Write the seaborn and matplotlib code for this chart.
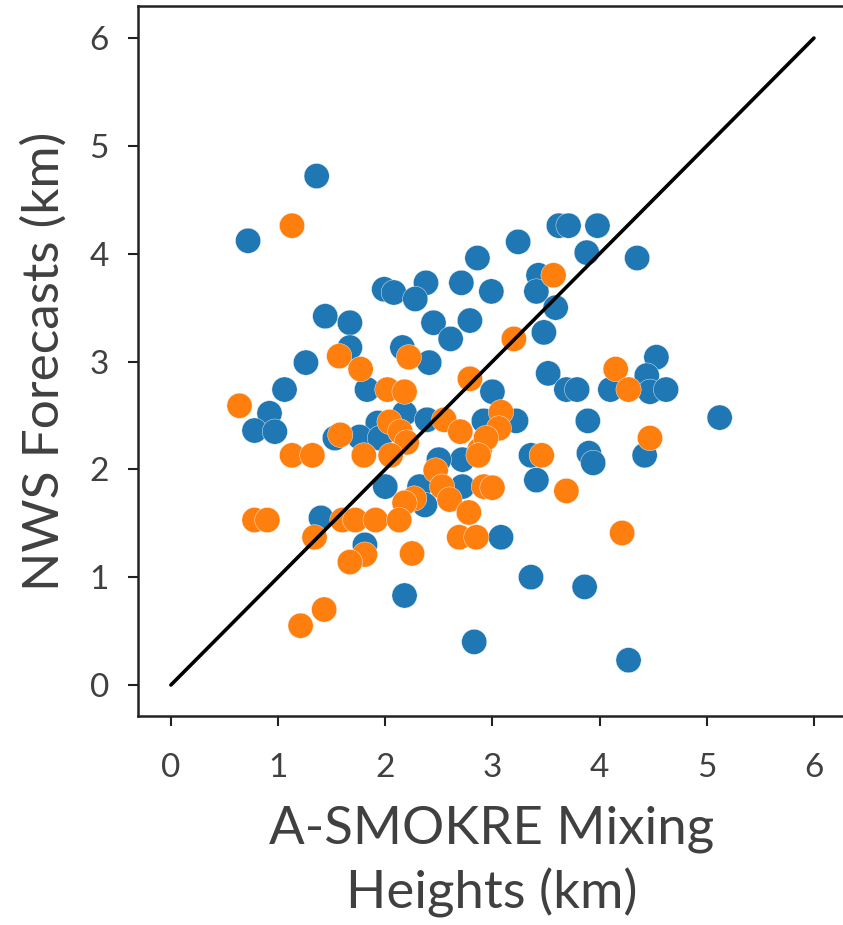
import pandas as pd
import seaborn as sns
import matplotlib.pyplot as plt

# blue group (A-SMOKRE, NWS) in km
blue_x = [1.36, 0.72, 1.99, 2.08, 2.38, 2.28, 2.71, 2.86, 2.99, 3.24, 3.62, 3.71,
          3.98, 3.88, 4.35, 3.43, 3.41, 3.59, 1.44, 1.67, 2.45, 2.79, 2.61, 1.67,
          2.16, 2.41, 1.26, 1.06, 0.92, 0.78, 0.97, 1.83, 1.93, 2.18, 2.39, 3.00,
          3.48, 4.53, 4.44, 3.52, 3.69, 3.79, 4.10, 4.47, 4.62, 5.12, 3.89, 3.22,
          2.92, 4.42, 3.90, 3.94, 3.36, 3.41, 2.72, 2.72, 3.08, 3.36, 3.86, 2.83,
          4.27, 1.53, 1.76, 1.95, 2.50, 2.00, 2.32, 2.37, 1.40, 1.81, 2.18]
blue_y = [4.72, 4.12, 3.67, 3.64, 3.73, 3.58, 3.73, 3.96, 3.65, 4.11, 4.26, 4.26,
          4.26, 4.01, 3.96, 3.80, 3.65, 3.50, 3.42, 3.36, 3.36, 3.38, 3.21, 3.13,
          3.13, 2.99, 2.99, 2.74, 2.52, 2.36, 2.35, 2.74, 2.43, 2.52, 2.46, 2.72,
          3.27, 3.04, 2.87, 2.89, 2.74, 2.74, 2.74, 2.72, 2.74, 2.48, 2.45, 2.45,
          2.45, 2.13, 2.15, 2.06, 2.13, 1.90, 2.09, 1.84, 1.37, 1.00, 0.91, 0.40,
          0.23, 2.29, 2.30, 2.29, 2.09, 1.84, 1.84, 1.67, 1.55, 1.30, 0.83]

# orange group
orange_x = [1.13, 1.57, 1.77, 2.22, 2.79, 3.57, 3.20, 4.15, 4.27, 4.47, 3.46, 3.69,
            4.21, 0.64, 2.02, 2.18, 2.04, 2.14, 2.20, 1.80, 2.05, 1.13, 1.32, 2.55,
            2.70, 2.88, 2.47, 2.53, 2.27, 2.18, 2.60, 2.78, 2.92, 3.08, 3.06, 2.94,
            2.87, 3.00, 2.69, 2.85, 1.58, 0.78, 0.90, 1.34, 1.60, 1.72, 1.91, 2.13,
            1.81, 1.67, 2.25, 1.43, 1.21]
orange_y = [4.26, 3.05, 2.93, 3.04, 2.84, 3.80, 3.21, 2.93, 2.74, 2.29, 2.13, 1.80,
            1.41, 2.59, 2.74, 2.72, 2.44, 2.35, 2.25, 2.13, 2.13, 2.13, 2.13, 2.46,
            2.35, 2.18, 1.99, 1.84, 1.73, 1.69, 1.72, 1.60, 1.84, 2.53, 2.38, 2.29,
            2.13, 1.83, 1.37, 1.37, 2.32, 1.53, 1.53, 1.37, 1.53, 1.53, 1.53, 1.53,
            1.21, 1.14, 1.22, 0.70, 0.55]

one_to_one = [0, 6]

df = pd.DataFrame({
    "asmokre": blue_x + orange_x,
    "nws": blue_y + orange_y,
    "group": ["a"] * len(blue_x) + ["b"] * len(orange_x),
})

sns.set_style("ticks")
plt.rcParams["font.family"] = ["Lato", "DejaVu Sans"]
text_color = "#404040"

fig = plt.figure(figsize=(8.43, 9.25), dpi=100)
ax = fig.add_axes([0.1637, 0.226, 0.84, 0.7675])

sns.scatterplot(data=df, x="asmokre", y="nws", hue="group",
                palette=["#1f77b4", "#ff7f0e"], s=330, linewidth=0.3,
                edgecolor="#f4f8fc", legend=False, ax=ax)
sns.lineplot(x=one_to_one, y=one_to_one, color="black", linewidth=2.6, ax=ax)

ax.set_xlim(-0.307, 6.30)
ax.set_ylim(-0.287, 6.297)
ax.set_xticks(range(0, 7))
ax.set_yticks(range(0, 7))
ax.tick_params(axis="both", direction="out", length=7, width=1.5,
               labelsize=24, labelcolor=text_color, color="#222222")
ax.tick_params(axis="x", pad=20)
ax.tick_params(axis="y", pad=14)
for side in ["left", "bottom", "top"]:
    ax.spines[side].set_linewidth(1.8)
    ax.spines[side].set_color("#222222")
ax.spines["right"].set_visible(False)

ax.set_xlabel("A-SMOKRE Mixing\nHeights (km)", fontsize=38, color=text_color,
              labelpad=16, linespacing=1.35)
ax.set_ylabel("NWS Forecasts (km)", fontsize=37, color=text_color, labelpad=16)

fig.savefig("out.png", dpi=100)
